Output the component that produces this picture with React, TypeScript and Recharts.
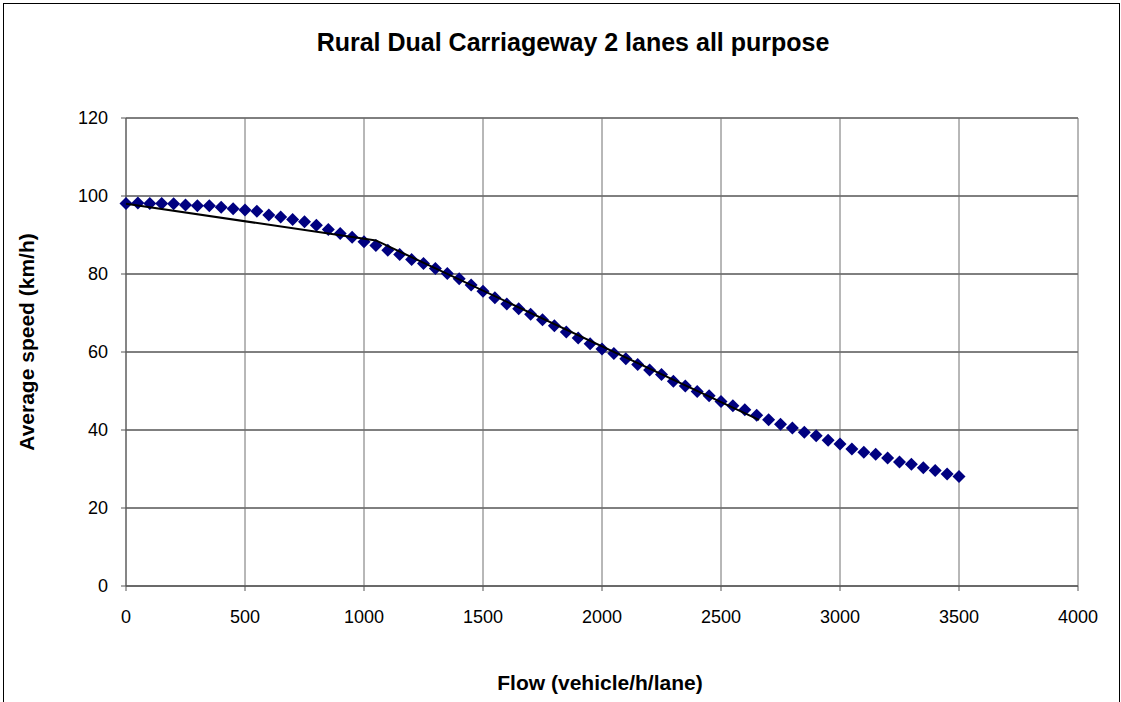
import { ScatterChart, Scatter, XAxis, YAxis, CartesianGrid } from "recharts";

// flow (vehicle/h/lane) sampled every 50
const flows = [
  0, 50, 100, 150, 200, 250, 300, 350, 400, 450, 500, 550, 600, 650, 700, 750,
  800, 850, 900, 950, 1000, 1050, 1100, 1150, 1200, 1250, 1300, 1350, 1400,
  1450, 1500, 1550, 1600, 1650, 1700, 1750, 1800, 1850, 1900, 1950, 2000, 2050,
  2100, 2150, 2200, 2250, 2300, 2350, 2400, 2450, 2500, 2550, 2600, 2650, 2700,
  2750, 2800, 2850, 2900, 2950, 3000, 3050, 3100, 3150, 3200, 3250, 3300, 3350,
  3400, 3450, 3500,
];

// average speed (km/h)
const speeds = [
  98.1, 98.2, 98.1, 98.1, 98.0, 97.7, 97.5, 97.5, 97.1, 96.7, 96.4, 96.1, 95.1,
  94.6, 94.0, 93.4, 92.5, 91.4, 90.4, 89.4, 88.3, 87.3, 86.1, 85.0, 83.7, 82.7,
  81.4, 80.1, 78.8, 77.2, 75.6, 73.9, 72.3, 71.1, 69.7, 68.3, 66.7, 65.1, 63.6,
  62.1, 60.8, 59.6, 58.3, 56.8, 55.4, 54.2, 52.5, 51.3, 49.9, 48.8, 47.3, 46.2,
  45.2, 43.8, 42.6, 41.5, 40.5, 39.4, 38.5, 37.4, 36.4, 35.1, 34.3, 33.8, 32.8,
  31.8, 31.2, 30.3, 29.6, 28.7, 28.1,
];

// straight-line relationship drawn in black
const lineFlows = [0, 1050, 2660];
const lineSpeeds = [98, 88.6, 42.6];

const xTicks = [0, 500, 1000, 1500, 2000, 2500, 3000, 3500, 4000];
const yTicks = [0, 20, 40, 60, 80, 100, 120];

const points = flows.map((f, i) => ({ flow: f, speed: speeds[i] }));
const linePoints = lineFlows.map((f, i) => ({ flow: f, speed: lineSpeeds[i] }));

const font = "'Liberation Sans', Arial, sans-serif";

const Diamond = (props: any) => {
  const { cx, cy } = props;
  const r = 6.5;
  return (
    <path
      d={`M${cx},${cy - r}L${cx + r},${cy}L${cx},${cy + r}L${cx - r},${cy}Z`}
      fill="#000080"
    />
  );
};

export default function App() {
  return (
    <div
      style={{
        position: "absolute",
        left: 0,
        top: 0,
        width: 1121,
        height: 702,
        overflow: "hidden",
        background: "#fff",
        fontFamily: font,
      }}
    >
      <div
        style={{
          position: "absolute",
          left: 3,
          top: 3,
          width: 1115,
          height: 760,
          border: "1px solid #000",
        }}
      />
      <div
        style={{
          position: "absolute",
          left: 0,
          width: 1146,
          top: 27,
          textAlign: "center",
          fontWeight: "bold",
          fontSize: 25,
          lineHeight: "30px",
        }}
      >
        Rural Dual Carriageway 2 lanes all purpose
      </div>
      <div
        style={{
          position: "absolute",
          left: 0,
          width: 1200,
          top: 670,
          textAlign: "center",
          fontWeight: "bold",
          fontSize: 21,
          lineHeight: "26px",
        }}
      >
        Flow (vehicle/h/lane)
      </div>
      <div
        style={{
          position: "absolute",
          left: 27,
          top: 342,
          transform: "translate(-50%, -50%) rotate(-90deg)",
          whiteSpace: "nowrap",
          fontWeight: "bold",
          fontSize: 21,
          lineHeight: "26px",
        }}
      >
        Average speed (km/h)
      </div>
      <div style={{ position: "absolute", left: 0, top: 0 }}>
        <ScatterChart
          width={1121}
          height={702}
          margin={{ top: 118, right: 43, bottom: 0, left: 0 }}
        >
          <CartesianGrid vertical={false} stroke="#000" strokeWidth={1} />
          <CartesianGrid horizontal={false} stroke="#707070" strokeWidth={1} />
          <XAxis
            type="number"
            dataKey="flow"
            domain={[0, 4000]}
            ticks={xTicks}
            height={116}
            tickSize={5}
            tickMargin={19}
            stroke="#555"
            tick={{ fill: "#000", fontSize: 18, fontFamily: font }}
          />
          <YAxis
            type="number"
            dataKey="speed"
            domain={[0, 120]}
            ticks={yTicks}
            width={126}
            tickSize={5}
            tickMargin={13}
            stroke="#555"
            tick={{ fill: "#000", fontSize: 18, fontFamily: font }}
          />
          <Scatter
            data={points}
            shape={Diamond}
            isAnimationActive={false}
          />
          <Scatter
            data={linePoints}
            line={{ stroke: "#000", strokeWidth: 2 }}
            shape={() => <g />}
            isAnimationActive={false}
          />
        </ScatterChart>
      </div>
    </div>
  );
}
